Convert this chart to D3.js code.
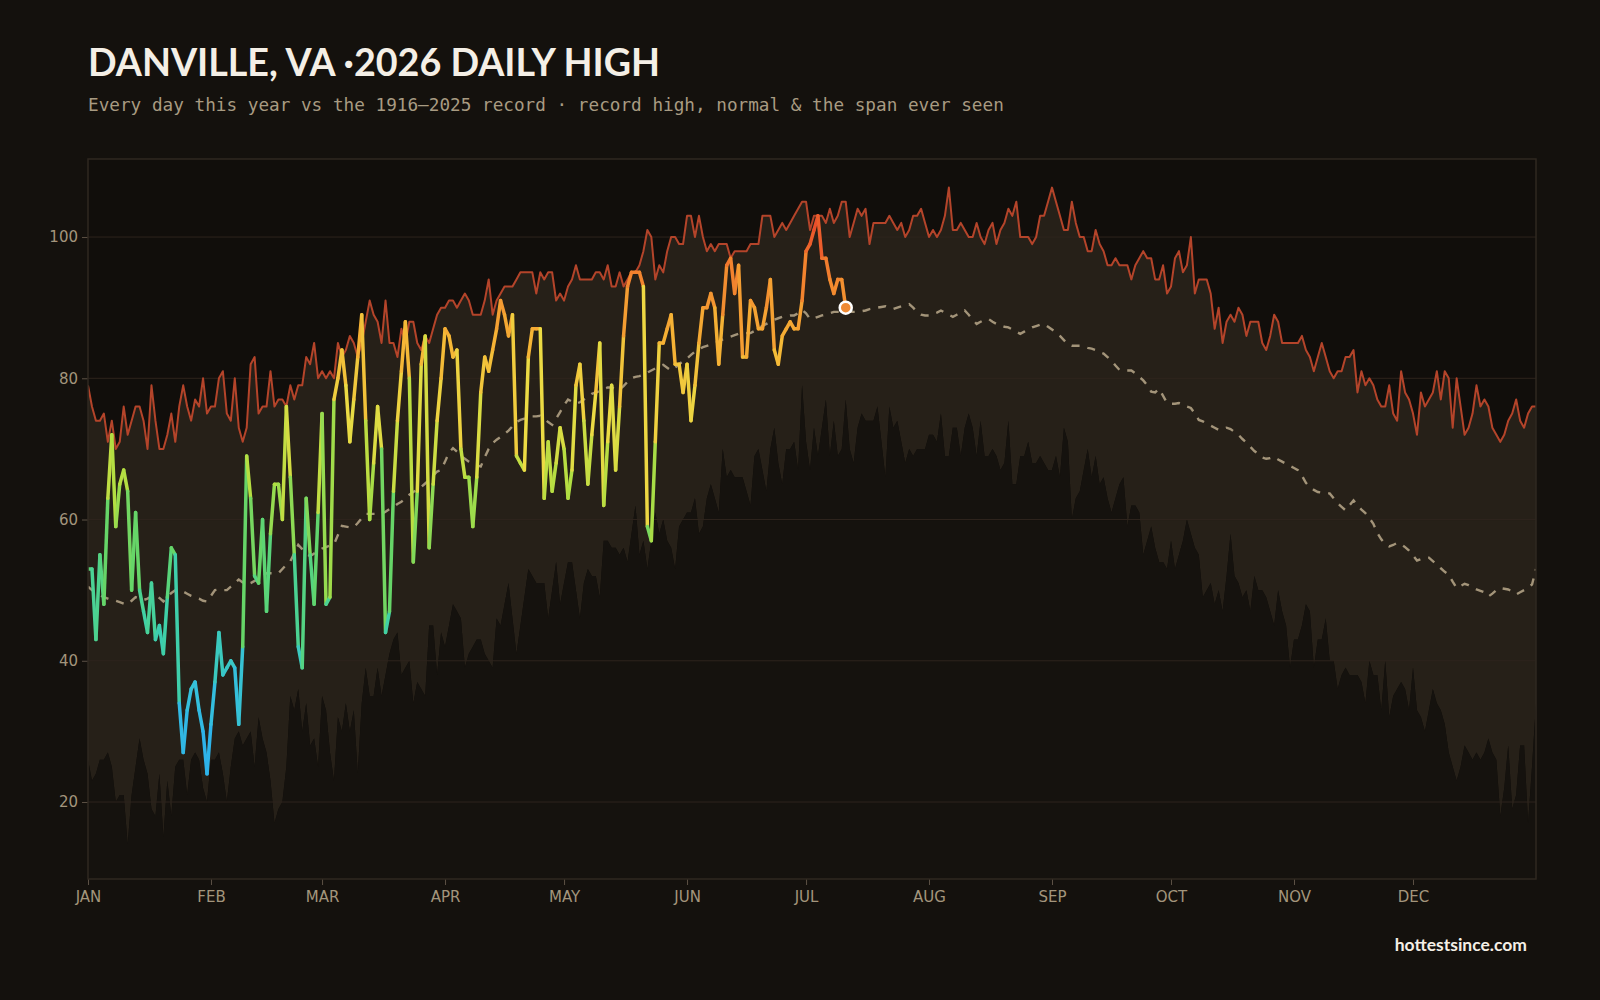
<!DOCTYPE html>
<html>
<head>
<meta charset="utf-8">
<script src="https://cdn.jsdelivr.net/npm/d3@7"></script>
<style>
  html, body { margin: 0; padding: 0; background: #14110d; }
  svg { display: block; }
</style>
</head>
<body>
<div id="chart"></div>
<script>
// daily values, index = day of year (0 = Jan 1)
const recordHigh = [
  79,76,74,74,75,71,74,70,71,76, 72,74,76,76,74,70,79,74,70,70,
  72,75,71,76,79,76,74,77,76,80, 75,76,76,80,81,75,74,80,73,71,
  73,82,83,75,76,76,81,76,77,77, 76,79,77,79,79,83,82,85,80,81,
  80,81,80,85,83,84,86,85,83,85, 88,91,89,88,85,91,85,85,83,87,
  85,88,88,85,84,86,85,87,89,90, 90,91,91,90,91,92,91,89,89,89,
  91,94,89,91,92,93,93,93,94,95, 95,95,95,92,95,94,95,95,91,92,
  91,93,94,96,94,94,94,94,95,95, 94,96,93,93,95,93,94,95,95,96,
  98,101,100,94,96,95,98,100,100,99, 99,103,103,100,103,100,98,99,98,99,
  99,99,97,98,98,98,98,99,99,99, 103,103,103,100,101,102,101,102,103,104,
  105,105,101,103,103,103,102,104,102,103, 105,105,100,102,104,103,104,99,102,102,
  102,102,103,102,101,102,100,101,103,103, 104,102,100,101,100,101,103,107,101,101,
  102,101,100,100,102,100,99,101,102,99, 101,102,104,103,105,100,100,100,99,100,
  103,103,105,107,105,103,101,101,105,102, 100,100,98,98,101,99,98,96,96,97,
  96,96,96,94,96,97,98,97,97,94, 94,96,92,93,97,98,95,96,100,92,
  94,94,94,92,87,90,85,88,89,88, 90,89,86,88,88,88,85,84,86,89,
  88,85,85,85,85,85,86,84,83,81, 83,85,83,81,80,81,81,83,83,84,
  78,81,79,80,79,77,76,76,79,75, 74,81,78,77,75,72,78,76,77,78,
  81,77,81,80,73,80,76,72,73,75, 79,76,77,76,73,72,71,72,74,75,
  77,74,73,75,76,76
];

const recordLow = [
  26,23,24,26,26,27,25,20,21,21, 14,21,25,29,26,24,19,18,24,15,
  23,18,25,26,26,21,26,27,26,22, 20,26,26,27,24,20,25,29,30,28,
  29,30,25,32,29,27,23,17,19,20, 25,35,33,36,30,34,28,29,25,35,
  33,27,23,32,30,34,30,33,24,34, 39,35,35,39,35,38,41,43,44,38,
  39,40,34,37,36,35,45,45,38,44, 42,45,48,47,46,39,41,42,43,43,
  41,40,39,46,45,48,51,46,41,45, 49,53,52,51,51,51,46,50,54,48,
  51,54,54,50,46,51,53,52,52,49, 57,57,56,56,55,56,54,58,62,55,
  57,53,57,61,58,60,57,56,53,59, 60,61,61,63,58,59,63,65,63,61,
  70,66,67,66,66,66,64,62,69,70, 67,64,70,73,68,65,70,70,71,67,
  79,71,67,73,69,73,77,69,74,69, 70,77,70,68,73,75,74,74,74,76,
  71,66,76,73,74,71,68,70,69,70, 70,70,72,72,71,75,69,69,73,73,
  69,73,75,73,69,74,69,69,70,69, 67,68,74,65,65,69,69,71,68,68,
  69,68,67,67,69,66,73,71,60,63, 64,67,70,66,69,65,66,63,61,63,
  65,66,59,62,62,61,55,57,59,56, 54,54,53,57,53,55,57,60,58,56,
  55,49,50,51,48,50,47,52,58,52, 51,49,50,47,52,50,50,49,47,45,
  50,47,45,39,43,43,45,48,47,39, 43,43,46,40,40,36,38,39,38,38,
  38,37,34,40,38,38,33,40,32,35, 36,37,36,33,39,33,32,30,33,36,
  34,33,31,27,25,23,25,28,27,26, 27,26,27,29,27,26,18,22,28,19,
  21,28,28,17,25,34
];

const normalHigh = [
  50.5,50.0,49.6,49.3,49.0,48.8,48.6,48.5,48.3,48.1, 48.0,48.5,49.0,48.8,48.6,48.8,49.1,49.3,48.9,48.4,
  49.0,49.6,50.0,49.9,49.8,49.5,49.2,49.0,48.8,48.5, 48.4,49.2,50.0,50.1,50.0,50.0,50.5,51.0,51.5,51.1,
  50.8,51.0,51.3,51.5,52.0,52.4,52.4,52.4,52.4,53.0, 53.6,54.1,55.2,56.4,55.8,55.2,54.8,55.2,55.6,55.9,
  56.1,56.3,56.5,57.8,59.1,59.0,58.9,58.9,59.5,60.2, 60.8,60.8,60.8,60.8,60.8,61.1,61.5,61.8,62.2,62.5,
  63.0,63.5,63.9,64.2,64.6,65.1,65.6,66.2,66.8,67.0, 68.2,69.5,70.1,69.6,69.0,68.6,68.2,67.9,67.7,67.5,
  68.8,70.0,70.8,71.3,71.7,72.1,72.6,73.2,73.8,74.1, 74.3,74.5,74.6,74.6,74.7,74.3,73.8,73.4,74.3,75.2,
  76.2,77.0,76.7,76.4,76.6,77.0,77.4,77.8,78.0,78.2, 78.5,78.7,78.7,78.5,78.4,78.9,79.5,80.0,80.2,80.3,
  80.5,80.8,81.1,81.4,81.7,81.9,81.5,81.1,81.5,82.0, 82.4,82.8,83.3,83.8,84.1,84.4,84.6,84.8,85.0,85.2,
  85.5,85.7,85.9,86.1,86.3,86.4,86.4,86.4,86.7,87.1, 87.4,87.7,88.0,88.3,88.5,88.7,88.8,88.9,88.9,89.2,
  89.7,89.2,88.4,88.5,88.7,88.9,89.0,89.2,89.4,89.4, 89.4,89.4,89.4,89.4,89.4,89.5,89.6,89.8,89.9,90.0,
  90.1,90.2,90.0,89.8,90.0,90.2,90.3,90.5,90.0,89.4, 89.0,88.9,88.9,89.1,89.3,89.6,89.3,89.0,88.7,89.0,
  89.3,89.6,89.0,88.3,87.7,88.0,88.3,88.4,88.0,87.7, 87.5,87.3,87.2,86.9,86.6,86.3,86.6,86.9,87.2,87.4,
  87.6,87.7,87.3,86.9,86.5,86.0,85.4,84.8,84.6,84.6, 84.6,84.5,84.3,84.2,84.0,83.7,83.5,83.0,82.5,81.8,
  81.2,81.1,81.1,81.1,80.7,80.2,79.7,79.0,78.1,78.0, 78.5,77.5,76.5,76.4,76.4,76.5,76.3,76.0,75.8,75.0,
  74.1,73.9,73.6,73.3,73.0,72.7,72.8,73.0,72.8,72.4, 72.0,71.4,70.9,70.3,69.7,69.3,68.8,68.6,68.7,68.9,
  68.5,68.2,67.9,67.6,67.3,67.0,66.2,65.2,64.6,64.2, 63.9,63.8,63.7,63.7,63.0,62.3,61.8,61.3,62.0,62.7,
  62.0,61.4,60.9,60.2,59.4,58.1,57.2,56.5,56.2,56.4, 56.7,56.5,56.1,55.6,54.9,54.2,54.4,54.6,54.6,54.1,
  53.6,53.1,52.6,52.2,51.2,50.3,50.6,50.9,50.7,50.4, 50.1,49.9,49.7,49.1,49.5,50.0,50.3,50.2,50.1,49.8,
  49.4,49.7,50.0,50.4,50.8,53.0
];

// 2026 observed daily highs, Jan 1 .. Jul 11
const observed2026 = [
  53,53,43,55,48,63,72,59,65,67, 64,50,61,50,47,44,51,43,45,41,
  49,56,55,34,27,33,36,37,33,30, 24,31,37,44,38,39,40,39,31,42,
  69,63,52,51,60,47,58,65,65,60, 76,66,55,42,39,63,55,48,61,75,
  48,49,77,80,84,79,71,77,83,89, 74,60,68,76,70,44,47,64,74,81,
  88,80,54,64,82,86,56,65,74,80, 87,86,83,84,70,66,66,59,66,78,
  83,81,84,87,91,89,86,89,69,68, 67,83,87,87,87,63,71,64,68,73,
  70,63,67,79,82,74,65,72,78,85, 62,71,79,67,76,86,93,95,95,95,
  93,59,57,71,85,85,87,89,82,82, 78,82,74,79,85,90,90,92,90,82,
  89,96,97,92,96,83,83,91,90,87, 87,90,94,84,82,86,87,88,87,87,
  91,98,99,101,103,97,97,94,92,94, 94,90
];

const monthLabels = ['JAN', 'FEB', 'MAR', 'APR', 'MAY', 'JUN', 'JUL', 'AUG', 'SEP', 'OCT', 'NOV', 'DEC'];
const monthStartDays = [0, 31, 59, 90, 120, 151, 181, 212, 243, 273, 304, 334];
const yTicks = [20, 40, 60, 80, 100];

const width = 1600;
const height = 1000;
const margin = { top: 159, right: 64, bottom: 121, left: 88 };
const innerWidth = width - margin.left - margin.right;
const innerHeight = height - margin.top - margin.bottom;

const svg = d3.select('#chart').append('svg')
  .attr('width', width)
  .attr('height', height)
  .style('background', '#14110d');

// heading
svg.append('text')
  .attr('x', 88)
  .attr('y', 76)
  .attr('textLength', 572)
  .attr('lengthAdjust', 'spacingAndGlyphs')
  .attr('fill', '#f4efe6')
  .attr('font-family', 'Lato, "Open Sans", sans-serif')
  .attr('font-weight', 700)
  .attr('font-size', 38)
  .text('DANVILLE, VA \u00b72026 DAILY HIGH');

svg.append('text')
  .attr('x', 88)
  .attr('y', 111)
  .attr('fill', '#a89b82')
  .attr('font-family', '"DejaVu Sans Mono", monospace')
  .attr('font-size', 17.7)
  .text('Every day this year vs the 1916\u20132025 record \u00b7 record high, normal & the span ever seen');

svg.append('text')
  .attr('x', 1527)
  .attr('y', 951)
  .attr('text-anchor', 'end')
  .attr('fill', '#f4efe6')
  .attr('font-family', 'Lato, "Open Sans", sans-serif')
  .attr('font-weight', 700)
  .attr('font-size', 17.5)
  .text('hottestsince.com');

const g = svg.append('g')
  .attr('transform', `translate(${margin.left}, ${margin.top})`);

const x = d3.scaleLinear()
  .domain([0, 365])
  .range([0, innerWidth]);

const y = d3.scaleLinear()
  .domain([9.1, 111.05])
  .range([innerHeight, 0]);

const tempColor = d3.scaleLinear()
  .domain([25, 35, 45, 55, 65, 75, 85, 95, 103])
  .range(['#2cb0ee', '#35c0dc', '#3fd0a8', '#62d56a', '#b0de42', '#ecdb44', '#f5b535', '#f2802e', '#e8482a'])
  .clamp(true);

g.append('clipPath')
  .attr('id', 'plot-clip')
  .append('rect')
  .attr('width', innerWidth)
  .attr('height', innerHeight);

g.append('rect')
  .attr('width', innerWidth)
  .attr('height', innerHeight)
  .attr('fill', '#110e0b');

const plot = g.append('g').attr('clip-path', 'url(#plot-clip)');

// span ever seen: record low .. record high
const band = d3.area()
  .x((d, i) => x(i))
  .y0((d, i) => y(recordLow[i]))
  .y1(d => y(d));

plot.append('path')
  .datum(recordHigh)
  .attr('fill', '#262018')
  .attr('d', band);

const below = d3.area()
  .x((d, i) => x(i))
  .y0(innerHeight)
  .y1(d => y(d));

plot.append('path')
  .datum(recordLow)
  .attr('fill', '#15120e')
  .attr('d', below);

// grid
plot.append('g')
  .selectAll('line')
  .data(yTicks)
  .join('line')
  .attr('x1', 0)
  .attr('x2', innerWidth)
  .attr('y1', d => y(d))
  .attr('y2', d => y(d))
  .attr('stroke', '#2e241d')
  .attr('stroke-width', 1);

const line = d3.line()
  .x((d, i) => x(i))
  .y(d => y(d));

plot.append('path')
  .datum(recordHigh)
  .attr('fill', 'none')
  .attr('stroke', '#b4442a')
  .attr('stroke-width', 2)
  .attr('stroke-linejoin', 'round')
  .attr('d', line);

plot.append('path')
  .datum(normalHigh)
  .attr('fill', 'none')
  .attr('stroke', '#a39479')
  .attr('stroke-width', 2.4)
  .attr('stroke-dasharray', '8,8')
  .attr('d', line);

// this year, one segment per day coloured by temperature
const pts = observed2026.map((v, i) => [i, v]);
const seg = d3.line()
  .x(d => x(d[0]))
  .y(d => y(d[1]));

plot.append('g')
  .selectAll('path')
  .data(d3.pairs(pts))
  .join('path')
  .attr('fill', 'none')
  .attr('stroke', d => tempColor((d[0][1] + d[1][1]) / 2))
  .attr('stroke-width', 3.5)
  .attr('stroke-linecap', 'round')
  .attr('d', seg);

const last = pts[pts.length - 1];
plot.append('circle')
  .attr('cx', x(last[0]))
  .attr('cy', y(last[1]))
  .attr('r', 6)
  .attr('fill', '#ef8a34')
  .attr('stroke', '#ffffff')
  .attr('stroke-width', 2.5);

// axes
const yAxis = g.append('g')
  .call(d3.axisLeft(y).tickValues(yTicks).tickSize(6).tickPadding(4));

const xAxis = g.append('g')
  .attr('transform', 'translate(0,' + innerHeight + ')')
  .call(d3.axisBottom(x)
    .tickValues(monthStartDays)
    .tickFormat((d, i) => monthLabels[i])
    .tickSize(6)
    .tickPadding(6));

[yAxis, xAxis].forEach(a => {
  a.attr('font-family', '"DejaVu Sans", sans-serif')
    .attr('font-size', 15);
  a.select('.domain').remove();
  a.selectAll('.tick line').attr('stroke', '#5c5145');
  a.selectAll('.tick text').attr('fill', '#a3957c');
});

g.append('rect')
  .attr('width', innerWidth)
  .attr('height', innerHeight)
  .attr('fill', 'none')
  .attr('stroke', '#2f2820')
  .attr('stroke-width', 1.5);
</script>
</body>
</html>
